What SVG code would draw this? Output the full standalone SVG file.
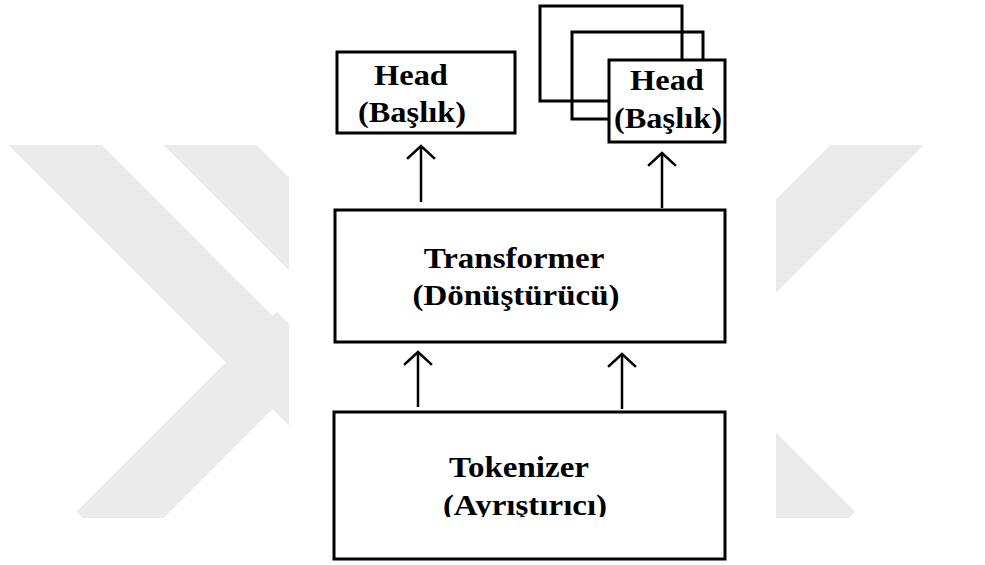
<svg xmlns="http://www.w3.org/2000/svg" width="985" height="565" viewBox="0 0 985 565">
  <style>
    .box { fill: #ffffff; stroke: #000000; stroke-width: 3; }
    .stack { fill: none; stroke: #000000; stroke-width: 3; }
    .lbl { font-family: "Liberation Serif", "Times New Roman", serif; font-weight: bold; font-size: 30px; fill: #000000; text-anchor: middle; }
    .link { stroke: #000000; stroke-width: 2.5; fill: none; }
    .head { stroke: #000000; stroke-width: 2.5; fill: none; stroke-linecap: square; }
    .mark { stroke: #ebebeb; fill: none; }
  </style>
  <defs>
    <clipPath id="markClip">
      <rect x="0" y="145" width="985" height="373"/>
    </clipPath>
    <clipPath id="tokClip">
      <rect x="334" y="412" width="391" height="105"/>
    </clipPath>
  </defs>

  <rect x="0" y="0" width="985" height="565" fill="#ffffff"/>

  <!-- faint background logo -->
  <g id="watermark" clip-path="url(#markClip)">
    <g class="mark" stroke-width="66">
      <line x1="30" y1="120" x2="330" y2="420"/>
      <line x1="185" y1="120" x2="485" y2="420"/>
      <line x1="300" y1="335" x2="100" y2="535"/>
      <line x1="902" y1="120" x2="602" y2="420"/>
      <line x1="747" y1="120" x2="447" y2="420"/>
      <line x1="632" y1="335" x2="832" y2="535"/>
    </g>
    <rect x="289" y="140" width="487" height="390" fill="#ffffff"/>
  </g>

  <!-- connectors -->
  <g id="connectors">
    <line class="link" x1="421" y1="202" x2="421" y2="147"/>
    <polyline class="head" points="408,158 421,146 434,158"/>
    <line class="link" x1="662" y1="208" x2="662" y2="154"/>
    <polyline class="head" points="649,165 662,153 675,165"/>
    <line class="link" x1="418" y1="407" x2="418" y2="353"/>
    <polyline class="head" points="405,364 418,352 431,364"/>
    <line class="link" x1="622" y1="409" x2="622" y2="355"/>
    <polyline class="head" points="609,366 622,354 635,366"/>
  </g>

  <!-- single head -->
  <g id="head-left">
    <rect class="box" x="337" y="52" width="178" height="81"/>
    <text class="lbl" x="411" y="85" transform="translate(411 0) scale(1.08 1) translate(-411 0)">Head</text>
    <text class="lbl" x="412" y="122" transform="translate(412 0) scale(1.08 1) translate(-412 0)">(Başlık)</text>
  </g>

  <!-- stacked heads -->
  <g id="head-stack">
    <rect class="stack" x="540" y="6" width="142" height="95"/>
    <rect class="stack" x="572" y="32" width="131" height="87"/>
    <rect class="box" x="609" y="60" width="116" height="82"/>
    <text class="lbl" x="667" y="90" transform="translate(667 0) scale(1.08 1) translate(-667 0)">Head</text>
    <text class="lbl" x="668" y="128" transform="translate(668 0) scale(1.08 1) translate(-668 0)">(Başlık)</text>
  </g>

  <!-- transformer -->
  <g id="transformer">
    <rect class="box" x="335" y="210" width="390" height="132"/>
    <text class="lbl" x="514" y="268" transform="translate(514 0) scale(1.1 1) translate(-514 0)">Transformer</text>
    <text class="lbl" x="516" y="305" transform="translate(516 0) scale(1.1 1) translate(-516 0)">(Dönüştürücü)</text>
  </g>

  <!-- tokenizer -->
  <g id="tokenizer">
    <rect class="box" x="334" y="412" width="391" height="147"/>
    <text class="lbl" x="519" y="477" transform="translate(519 0) scale(1.1 1) translate(-519 0)">Tokenizer</text>
    <g clip-path="url(#tokClip)">
      <text class="lbl" x="525" y="515" transform="translate(525 0) scale(1.1 1) translate(-525 0)">(Ayrıştırıcı)</text>
    </g>
  </g>
</svg>
